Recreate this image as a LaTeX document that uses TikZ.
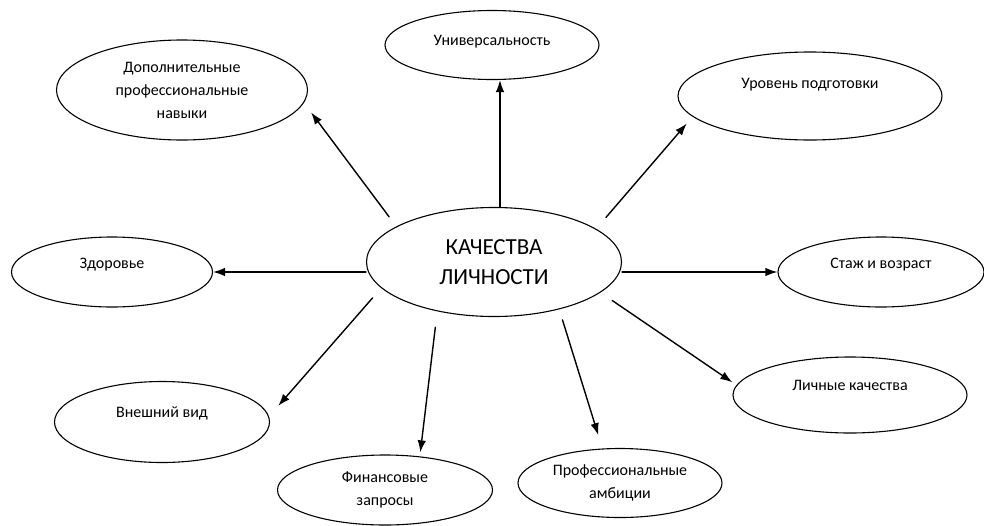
\documentclass[tikz,border=0pt]{standalone}
\usepackage{fontspec}
\setmainfont{Carlito}
\usetikzlibrary{shapes.geometric,arrows.meta}

\tikzset{
  blob/.style={draw,ellipse,inner sep=0pt,line width=1.1pt,align=center,font=\fontsize{16}{23}\selectfont},
  lift/.style={text depth=#1},
  link/.style={->,line width=1.4pt},
}

\begin{document}
\begin{tikzpicture}[x=1pt,y=-1pt,line cap=round,line join=round,>={Latex[length=12pt,width=8.5pt]}]
      \useasboundingbox (0,0) rectangle (984,525);
      \node[blob,minimum width=255pt,minimum height=109pt,font=\fontsize{23}{30}\selectfont] (q) at (494,262) {КАЧЕСТВА\\ЛИЧНОСТИ};
      \node[blob,lift=10pt,minimum width=214pt,minimum height=69pt] (univ) at (492,45) {Универсальность};
      \node[blob,minimum width=251pt,minimum height=100pt] (dop) at (182,90) {Дополнительные\\профессиональные\\навыки};
      \node[blob,lift=26pt,minimum width=264pt,minimum height=88pt] (urov) at (810,96) {Уровень подготовки};
      \node[blob,lift=18pt,minimum width=201pt,minimum height=70pt] (zdor) at (112,272) {Здоровье};
      \node[blob,lift=18pt,minimum width=206pt,minimum height=70pt] (staj) at (881,272) {Стаж и возраст};
      \node[blob,lift=20pt,minimum width=215pt,minimum height=81pt] (vnesh) at (162,422) {Внешний вид};
      \node[blob,lift=20pt,minimum width=234pt,minimum height=76pt] (lich) at (850,395) {Личные качества};
      \node[blob,minimum width=215pt,minimum height=70pt] (fin) at (385,490) {Финансовые\\запросы};
      \node[blob,minimum width=204pt,minimum height=69pt] (prof) at (620,483) {Профессиональные\\амбиции};
      \draw[link] ([xshift=6pt]q.north) -- ([xshift=6pt]q.north |- univ.south);
      \draw[link,shorten <=12pt,shorten >=12pt] (q.160) -- (dop.-6);
      \draw[link,shorten <=15pt,shorten >=9pt] (q.18) -- (urov.190);
      \draw[link] (q.west |- zdor.east) -- (zdor.east);
      \draw[link] (q.east |- staj.west) -- (staj.west);
      \draw[link,shorten <=13pt,shorten >=14pt] (q.193) -- (vnesh.3);
      \draw[link,shorten <=16pt,shorten >=4pt] (q.221) -- (fin.44);
      \draw[link,shorten <=11pt,shorten >=14pt] (q.324) -- (prof.117);
      \draw[link,shorten <=14pt,shorten >=5pt] (q.-16) -- (lich.175);
    \end{tikzpicture}
\end{document}
